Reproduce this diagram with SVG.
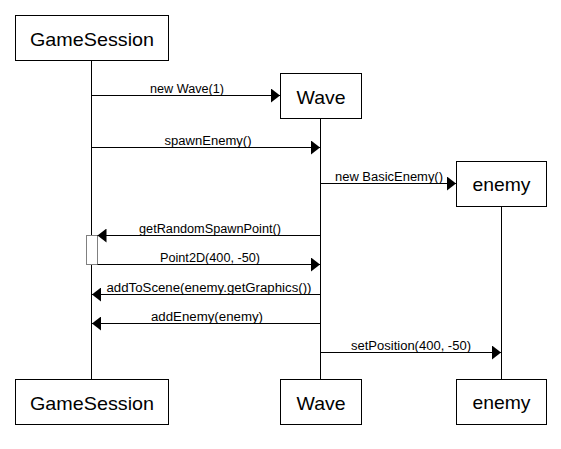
<svg xmlns="http://www.w3.org/2000/svg" width="561" height="449" viewBox="0 0 561 449">
<style>
.box{fill:#fff;stroke:#000;stroke-width:1}
.title{font-family:"Liberation Sans",Arial,sans-serif;font-size:19px;text-anchor:middle;fill:#000}
.lbl{font-family:"Liberation Sans",Arial,sans-serif;font-size:12px;text-anchor:middle;fill:#000}
.life{stroke:#000;stroke-width:1;fill:none}
.msg{stroke:#000;stroke-width:1;fill:none;marker-end:url(#ah)}
.act{fill:#fff;stroke:#808080;stroke-width:1}
</style>
<defs>
<marker id="ah" markerUnits="userSpaceOnUse" markerWidth="10" markerHeight="14" refX="9" refY="7" orient="auto" viewBox="0 0 10 14">
<path d="M0,0 L9,7 L0,14 z" fill="#000"/>
</marker>
</defs>
<rect width="561" height="449" fill="#fff"/>
<g id="lifelines">
<line class="life" x1="91.5" y1="60.5" x2="91.5" y2="379.5"/>
<line class="life" x1="320.5" y1="118.5" x2="320.5" y2="379.5"/>
<line class="life" x1="501.5" y1="206.5" x2="501.5" y2="379.5"/>
</g>
<g id="gamesession-top"><rect class="box" x="15.5" y="15.5" width="153" height="45"/><text class="title" x="92" y="45.5" textLength="124" lengthAdjust="spacingAndGlyphs">GameSession</text></g>
<g id="wave-top"><rect class="box" x="280.5" y="73.5" width="81" height="45"/><text class="title" x="321" y="103.5" textLength="49" lengthAdjust="spacingAndGlyphs">Wave</text></g>
<g id="enemy-top"><rect class="box" x="456.5" y="161.5" width="90" height="45"/><text class="title" x="501.5" y="191" textLength="58" lengthAdjust="spacingAndGlyphs">enemy</text></g>
<g id="gamesession-bottom"><rect class="box" x="15.5" y="379.5" width="153" height="45"/><text class="title" x="92" y="409.5" textLength="124" lengthAdjust="spacingAndGlyphs">GameSession</text></g>
<g id="wave-bottom"><rect class="box" x="280.5" y="379.5" width="81" height="45"/><text class="title" x="321" y="409.5" textLength="49" lengthAdjust="spacingAndGlyphs">Wave</text></g>
<g id="enemy-bottom"><rect class="box" x="456.5" y="379.5" width="90" height="45"/><text class="title" x="501.5" y="409" textLength="58" lengthAdjust="spacingAndGlyphs">enemy</text></g>
<g id="activation"><rect class="act" x="86.5" y="235.5" width="11" height="29"/></g>
<g id="connectors">
<line class="msg" x1="91.5" y1="95.5" x2="280" y2="95.5"/>
<text class="lbl" x="187" y="92.5" textLength="74" lengthAdjust="spacingAndGlyphs">new Wave(1)</text>
<line class="msg" x1="91.5" y1="147.5" x2="320" y2="147.5"/>
<text class="lbl" x="208" y="144.5" textLength="87" lengthAdjust="spacingAndGlyphs">spawnEnemy()</text>
<line class="msg" x1="320.5" y1="183.5" x2="456" y2="183.5"/>
<text class="lbl" x="389" y="180.5" textLength="108" lengthAdjust="spacingAndGlyphs">new BasicEnemy()</text>
<line class="msg" x1="320.5" y1="235.5" x2="97.5" y2="235.5"/>
<text class="lbl" x="210" y="232.5" textLength="142" lengthAdjust="spacingAndGlyphs">getRandomSpawnPoint()</text>
<line class="msg" x1="97.5" y1="264.5" x2="320" y2="264.5"/>
<text class="lbl" x="210" y="261.5" textLength="100" lengthAdjust="spacingAndGlyphs">Point2D(400, -50)</text>
<line class="msg" x1="320.5" y1="294.5" x2="92" y2="294.5"/>
<text class="lbl" x="209" y="291.5" textLength="205" lengthAdjust="spacingAndGlyphs">addToScene(enemy.getGraphics())</text>
<line class="msg" x1="320.5" y1="323.5" x2="92" y2="323.5"/>
<text class="lbl" x="207" y="320.5" textLength="112" lengthAdjust="spacingAndGlyphs">addEnemy(enemy)</text>
<line class="msg" x1="320.5" y1="352.5" x2="501" y2="352.5"/>
<text class="lbl" x="411" y="349.5" textLength="120" lengthAdjust="spacingAndGlyphs">setPosition(400, -50)</text>
</g>
</svg>
